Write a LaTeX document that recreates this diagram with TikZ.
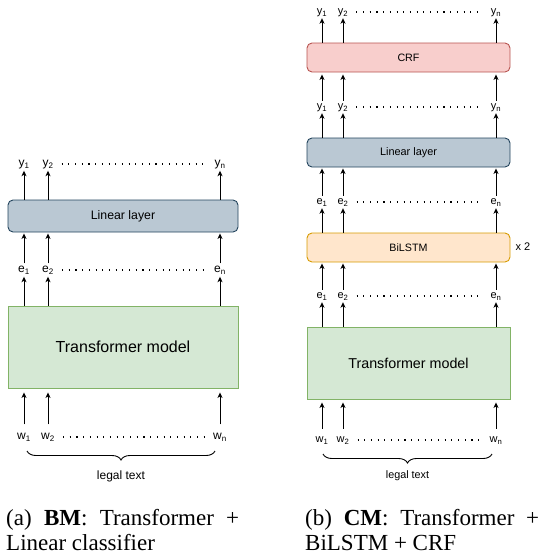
\documentclass[tikz,border=0pt]{standalone}
\usepackage{fontspec}
\setmainfont{Liberation Serif}
\setsansfont{Liberation Sans}
\usetikzlibrary{arrows.meta,decorations.pathreplacing}
\definecolor{LinFill}{HTML}{BAC8D3}
\definecolor{LinLine}{HTML}{23445D}
\definecolor{TrFill}{HTML}{D5E8D4}
\definecolor{TrLine}{HTML}{82B366}
\definecolor{CrfFill}{HTML}{F8CECC}
\definecolor{CrfLine}{HTML}{B85450}
\definecolor{LstmFill}{HTML}{FFE6CC}
\definecolor{LstmLine}{HTML}{D79B00}

\begin{document}
\begin{tikzpicture}[x=1pt,y=1pt,yscale=-1,xscale=1,
		layer/.style={draw, line width=0.9pt, rounded corners=5pt, font=\sffamily},
		tok/.style={font=\sffamily\fontsize{12}{14}\selectfont, inner sep=1pt, text height=8pt, text depth=3pt},
		toksm/.style={font=\sffamily\fontsize{11}{13}\selectfont, inner sep=1pt, text height=7.5pt, text depth=2.5pt},
		up/.style={-{Stealth[length=5.5pt,width=5pt,inset=1.5pt]}, line width=0.9pt},
		dots/.style={line width=1.1pt, dash pattern=on 1.1pt off 5.6pt, shorten <=7pt, shorten >=7pt},
		brc/.style={decorate, decoration={brace, mirror, amplitude=9pt}, line width=0.9pt},
		subcap/.style={font=\fontsize{23}{25}\selectfont, inner sep=0pt, align=left, anchor=base west}]
		\useasboundingbox (0,0) rectangle (542,555); % whole page, both models side by side

		%%% (a) base model %%%

		% Layers
		\node[layer, fill=LinFill, draw=LinLine, minimum width=230pt, minimum height=32pt, font=\sffamily\fontsize{12.3}{14}\selectfont] (linA) at (123,216) {Linear layer};
		\node[layer, rounded corners=0pt, fill=TrFill, draw=TrLine, minimum width=230pt, minimum height=82pt, font=\sffamily\fontsize{16}{18}\selectfont] (trA) at (123,347) {Transformer model};

		% Output labels
		\node[tok] (yA1) at (24,164) {y\textsubscript{1}};
		\node[tok] (yA2) at (48,164) {y\textsubscript{2}};
		\node[tok] (yAn) at (220,164) {y\textsubscript{n}};

		% Embeddings
		\node[tok] (eA1) at (24,270) {e\textsubscript{1}};
		\node[tok] (eA2) at (48,270) {e\textsubscript{2}};
		\node[tok] (eAn) at (220,270) {e\textsubscript{n}};

		% Input words
		\node[tok] (wA1) at (24,437) {w\textsubscript{1}};
		\node[tok] (wA2) at (48,437) {w\textsubscript{2}};
		\node[tok] (wAn) at (220,437) {w\textsubscript{n}};

		% Dotted runs between the second and the last token
		\draw[dots] (yA2.east) -- (yAn.west);
		\draw[dots] (eA2.east) -- (eAn.west);
		\draw[dots] (wA2.east) -- (wAn.west);

		% Arrows, bottom to top
		\draw[up, shorten <=6pt, shorten >=4pt] (wA1.north) -- (trA.south -| wA1);
		\draw[up, shorten <=6pt, shorten >=4pt] (wA2.north) -- (trA.south -| wA2);
		\draw[up, shorten <=6pt, shorten >=4pt] (wAn.north) -- (trA.south -| wAn);
		\draw[up] (trA.north -| eA1) -- (eA1.south);
		\draw[up] (trA.north -| eA2) -- (eA2.south);
		\draw[up] (trA.north -| eAn) -- (eAn.south);
		\draw[up, shorten >=1pt] (eA1.north) -- (linA.south -| eA1);
		\draw[up, shorten >=1pt] (eA2.north) -- (linA.south -| eA2);
		\draw[up, shorten >=1pt] (eAn.north) -- (linA.south -| eAn);
		\draw[up] (linA.north -| yA1) -- (yA1.south);
		\draw[up] (linA.north -| yA2) -- (yA2.south);
		\draw[up] (linA.north -| yAn) -- (yAn.south);

		% Brace under the words
		\coordinate (brA1) at (27,451);
		\coordinate (brA2) at (215,451);
		\draw[brc] (brA1) -- (brA2);
		\node[font=\sffamily\fontsize{12}{14}\selectfont] (legA) at (121,476) {legal text};

		%%% (b) combined model %%%

		% Layers
		\node[layer, fill=CrfFill, draw=CrfLine, minimum width=203pt, minimum height=29pt, font=\sffamily\fontsize{10.7}{13}\selectfont] (crfB) at (408.5,57.5) {CRF};
		\node[layer, fill=LinFill, draw=LinLine, minimum width=203pt, minimum height=29pt, font=\sffamily\fontsize{10.9}{13}\selectfont] (linB) at (408.5,152.5) {Linear layer};
		\node[layer, fill=LstmFill, draw=LstmLine, minimum width=203pt, minimum height=29pt, font=\sffamily\fontsize{10.7}{13}\selectfont] (lstmB) at (408.5,247.5) {BiLSTM};
		\node[layer, rounded corners=0pt, fill=TrFill, draw=TrLine, minimum width=203pt, minimum height=72pt, font=\sffamily\fontsize{14.3}{17}\selectfont] (trB) at (408.5,363) {Transformer model};
		\node[toksm] (rep) at (523,247.5) {x 2};

		% CRF outputs
		\node[toksm] (oB1) at (322,12) {y\textsubscript{1}};
		\node[toksm] (oB2) at (343,12) {y\textsubscript{2}};
		\node[toksm] (oBn) at (496,12) {y\textsubscript{n}};

		% Linear outputs
		\node[toksm] (yB1) at (322,107) {y\textsubscript{1}};
		\node[toksm] (yB2) at (343,107) {y\textsubscript{2}};
		\node[toksm] (yBn) at (496,107) {y\textsubscript{n}};

		% BiLSTM outputs
		\node[toksm] (hB1) at (322,202) {e\textsubscript{1}};
		\node[toksm] (hB2) at (343,202) {e\textsubscript{2}};
		\node[toksm] (hBn) at (496,202) {e\textsubscript{n}};

		% Transformer outputs
		\node[toksm] (eB1) at (322,296) {e\textsubscript{1}};
		\node[toksm] (eB2) at (343,296) {e\textsubscript{2}};
		\node[toksm] (eBn) at (496,296) {e\textsubscript{n}};

		% Input words
		\node[toksm] (wB1) at (322,440) {w\textsubscript{1}};
		\node[toksm] (wB2) at (343,440) {w\textsubscript{2}};
		\node[toksm] (wBn) at (496,440) {w\textsubscript{n}};

		% Dotted runs
		\draw[dots] (oB2.east) -- (oBn.west);
		\draw[dots] (yB2.east) -- (yBn.west);
		\draw[dots] (hB2.east) -- (hBn.west);
		\draw[dots] (eB2.east) -- (eBn.west);
		\draw[dots] (wB2.east) -- (wBn.west);

		% Arrows, bottom to top
		\draw[up, shorten <=5pt, shorten >=3pt] (wB1.north) -- (trB.south -| wB1);
		\draw[up, shorten <=5pt, shorten >=3pt] (wB2.north) -- (trB.south -| wB2);
		\draw[up, shorten <=5pt, shorten >=3pt] (wBn.north) -- (trB.south -| wBn);
		\draw[up] (trB.north -| eB1) -- (eB1.south);
		\draw[up] (trB.north -| eB2) -- (eB2.south);
		\draw[up] (trB.north -| eBn) -- (eBn.south);
		\draw[up, shorten >=1pt] (eB1.north) -- (lstmB.south -| eB1);
		\draw[up, shorten >=1pt] (eB2.north) -- (lstmB.south -| eB2);
		\draw[up, shorten >=1pt] (eBn.north) -- (lstmB.south -| eBn);
		\draw[up] (lstmB.north -| hB1) -- (hB1.south);
		\draw[up] (lstmB.north -| hB2) -- (hB2.south);
		\draw[up] (lstmB.north -| hBn) -- (hBn.south);
		\draw[up, shorten >=1pt] (hB1.north) -- (linB.south -| hB1);
		\draw[up, shorten >=1pt] (hB2.north) -- (linB.south -| hB2);
		\draw[up, shorten >=1pt] (hBn.north) -- (linB.south -| hBn);
		\draw[up] (linB.north -| yB1) -- (yB1.south);
		\draw[up] (linB.north -| yB2) -- (yB2.south);
		\draw[up] (linB.north -| yBn) -- (yBn.south);
		\draw[up, shorten >=2pt] (yB1.north) -- (crfB.south -| yB1);
		\draw[up, shorten >=2pt] (yB2.north) -- (crfB.south -| yB2);
		\draw[up, shorten >=2pt] (yBn.north) -- (crfB.south -| yBn);
		\draw[up] (crfB.north -| oB1) -- (oB1.south);
		\draw[up] (crfB.north -| oB2) -- (oB2.south);
		\draw[up] (crfB.north -| oBn) -- (oBn.south);

		% Brace under the words
		\coordinate (brB1) at (323,454);
		\coordinate (brB2) at (492,454);
		\draw[brc] (brB1) -- (brB2);
		\node[font=\sffamily\fontsize{10.8}{13}\selectfont] (legB) at (407.5,476) {legal text};

		% Sub-captions (base anchor sits on the second line)
		\node[subcap] (capA) at (6,550) {\makebox[233pt][s]{(a) \textbf{BM}: Transformer +}\\Linear classifier};
		\node[subcap] (capB) at (305,550) {\makebox[234pt][s]{(b) \textbf{CM}: Transformer +}\\BiLSTM + CRF};
	\end{tikzpicture}
\end{document}
